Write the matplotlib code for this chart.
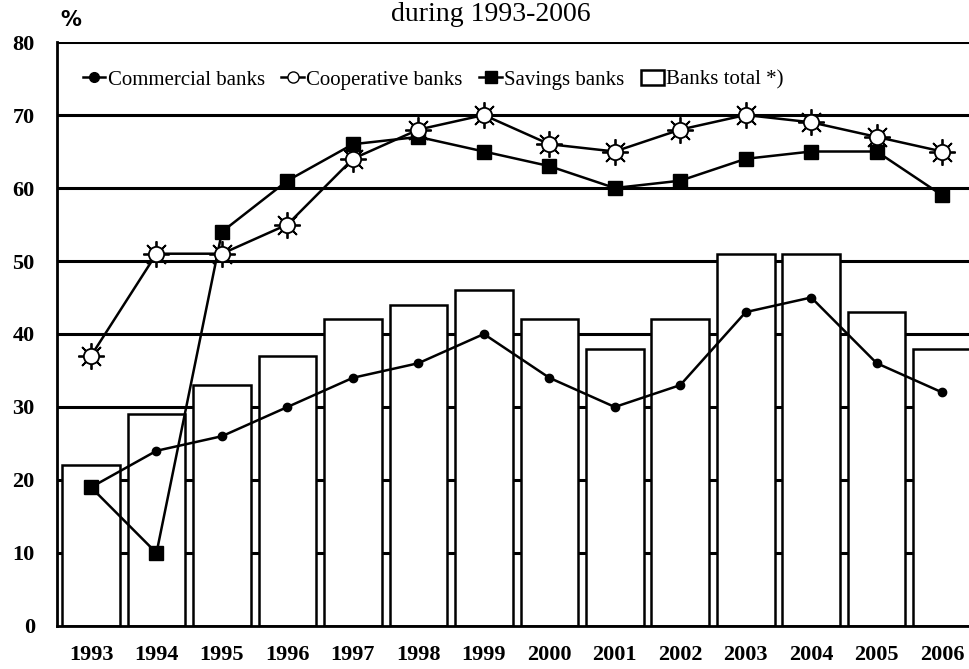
import numpy as np
import matplotlib.pyplot as plt
from matplotlib.lines import Line2D
from matplotlib.patches import Patch

years = ['1993', '1994', '1995', '1996', '1997', '1998', '1999',
         '2000', '2001', '2002', '2003', '2004', '2005', '2006']
banks_total = [22, 29, 33, 37, 42, 44, 46, 42, 38, 42, 51, 51, 43, 38]
commercial = [19, 24, 26, 30, 34, 36, 40, 34, 30, 33, 43, 45, 36, 32]
cooperative = [37, 51, 51, 55, 64, 68, 70, 66, 65, 68, 70, 69, 67, 65]
savings = [19, 10, 54, 61, 66, 67, 65, 63, 60, 61, 64, 65, 65, 59]

serif = 'Liberation Serif'

fig = plt.figure(figsize=(9.69, 6.69), dpi=100)
ax = fig.add_axes([0.0588, 0.0643, 0.9412, 0.8729])
x = np.arange(len(years))

# gridlines behind the white bars
for yv in range(10, 81, 10):
    ax.axhline(yv, color='black', lw=2.2, zorder=0)

ax.bar(x, banks_total, width=0.88, color='white', edgecolor='black',
       linewidth=1.8, zorder=1)

ax.plot(x, commercial, color='black', lw=1.8, marker='o', ms=6, zorder=3)
ax.plot(x, savings, color='black', lw=1.8, marker='s', ms=10, zorder=4)
# cooperative: sun-like marker (rays + open circle)
ax.plot(x, cooperative, color='black', lw=1.8, zorder=5)
ax.plot(x, cooperative, ls='none', marker=(8, 2, 0), ms=19, mew=1.3,
        color='black', zorder=6)
ax.plot(x, cooperative, ls='none', marker='o', ms=11, mfc='white',
        mec='black', mew=1.3, zorder=7)

ax.set_xlim(-0.52, 13.41)
ax.set_ylim(0, 80)
ax.set_yticks(range(0, 81, 10))
ax.set_xticks(x)
ax.set_xticklabels(years)
ax.tick_params(length=0)
ax.tick_params(axis='x', pad=14)
ax.tick_params(axis='y', pad=16)
for lab in ax.get_xticklabels() + ax.get_yticklabels():
    lab.set_fontfamily(serif)
    lab.set_fontweight('bold')
    lab.set_fontsize(16)

for side in ['top', 'right']:
    ax.spines[side].set_visible(False)
ax.spines['left'].set_linewidth(2)
ax.spines['bottom'].set_linewidth(2)

handles = [
    Line2D([], [], color='black', lw=1.8, marker='o', ms=7),
    Line2D([], [], color='black', lw=1.8, marker='o', ms=8, mfc='white'),
    Line2D([], [], color='black', lw=1.8, marker='s', ms=9),
    Patch(facecolor='white', edgecolor='black', linewidth=1.8),
]
labels = ['Commercial banks', 'Cooperative banks', 'Savings banks', 'Banks total *)']
ax.legend(handles, labels, loc='center left', bbox_to_anchor=(0.012, 0.935),
          ncol=4, frameon=False, handlelength=1.1, handletextpad=0.1,
          columnspacing=0.8, borderpad=0.2,
          prop={'family': serif, 'size': 15})

fig.text(0.062, 0.97, '%', fontsize=15, fontweight='bold', va='center',
         family='DejaVu Sans')
fig.text(0.506, 0.968, 'during 1993-2006', ha='center', va='baseline',
         fontsize=20, family=serif)

fig.savefig('out.png', dpi=100)
